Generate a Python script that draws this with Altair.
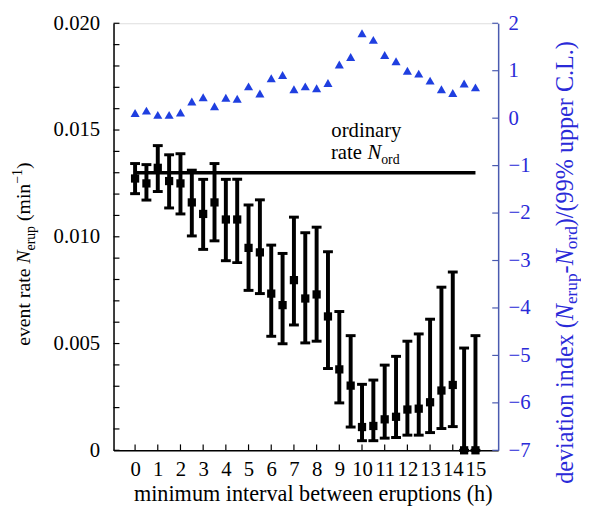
import altair as alt
import pandas as pd

# ---------------- data ----------------
interval_h = [0, 0.5, 1, 1.5, 2, 2.5, 3, 3.5, 4, 4.5, 5, 5.5, 6, 6.5, 7, 7.5,
              8, 8.5, 9, 9.5, 10, 10.5, 11, 11.5, 12, 12.5, 13, 13.5, 14, 14.5, 15]
rate = [0.01273, 0.01250, 0.01323, 0.01261, 0.01250, 0.01161, 0.01107, 0.01161,
        0.01081, 0.01081, 0.00948, 0.00927, 0.00734, 0.00680, 0.00797, 0.00711,
        0.00730, 0.00627, 0.00379, 0.00303, 0.00109, 0.00114, 0.00145, 0.00157,
        0.00191, 0.00195, 0.00225, 0.00280, 0.00306, 0.0, 0.0]
rate_upper = [0.01343, 0.01338, 0.01427, 0.01384, 0.01389, 0.01312, 0.01269, 0.01343,
              0.01269, 0.01269, 0.01149, 0.01173, 0.00961, 0.00922, 0.01092, 0.01019,
              0.01045, 0.00930, 0.00650, 0.00537, 0.00309, 0.00329, 0.00399, 0.00440,
              0.00511, 0.00545, 0.00614, 0.00764, 0.00835, 0.00479, 0.00537]
rate_lower = [0.01202, 0.01172, 0.01212, 0.01135, 0.01107, 0.01004, 0.00941, 0.00981,
              0.00888, 0.00879, 0.00749, 0.00734, 0.00534, 0.00499, 0.00587, 0.00503,
              0.00511, 0.00383, 0.00222, 0.00109, 0.00045, 0.00045, 0.00057, 0.00060,
              0.00071, 0.00071, 0.00083, 0.00102, 0.00111, 0.0, 0.0]
deviation = [0.11, 0.16, 0.07, 0.07, 0.12, 0.35, 0.44, 0.25, 0.43, 0.41, 0.67,
             0.52, 0.84, 0.91, 0.61, 0.67, 0.63, 0.74, 1.13, 1.29, 1.79, 1.65,
             1.33, 1.20, 1.00, 0.94, 0.79, 0.61, 0.53, 0.73, 0.65]
ord_rate = 0.013
ord_span = [0, 15]
label_x = 10.15

x_ticks = [0, 1, 2, 3, 4, 5, 6, 7, 8, 9, 10, 11, 12, 13, 14, 15]
left_labels = [0, 0.005, 0.010, 0.015, 0.020]
left_minor = [0, 0.001, 0.002, 0.003, 0.004, 0.005, 0.006, 0.007, 0.008, 0.009, 0.010,
              0.011, 0.012, 0.013, 0.014, 0.015, 0.016, 0.017, 0.018, 0.019, 0.020]
right_ticks = [-7, -6, -5, -4, -3, -2, -1, 0, 1, 2]

# ---------------- styling ----------------
W, H = 390, 433
SERIF = "Liberation Serif, Times New Roman, Times, serif"
BLUE = "#2a2ad8"
TRI_BLUE = "#1f3fe0"
FRAME_BLUE = "#4a5ab0"

df = pd.DataFrame({"x": interval_h, "rate": rate, "lo": rate_lower,
                   "hi": rate_upper, "dev": deviation})
ord_df = pd.DataFrame({"x": ord_span, "y": [ord_rate, ord_rate]})
lab_df = pd.DataFrame({"x": [label_x], "y": [ord_rate]})
dummy = pd.DataFrame({"d": [0]})

xs = alt.Scale(domain=[-0.95, 16.0], nice=False, zero=False)
ys = alt.Scale(domain=[0, 0.02], nice=False)
yr = alt.Scale(domain=[-7, 2], nice=False, zero=False)

x_axis = alt.Axis(values=x_ticks, ticks=False, grid=False, domainColor="black",
                  domainWidth=1.5, labelFont=SERIF, labelFontSize=21,
                  labelColor="black", labelPadding=9, labelFlush=False,
                  labelOverlap=False,
                  title="minimum interval between eruptions (h)",
                  titleFont=SERIF, titleFontSize=22.5, titleFontWeight="normal",
                  titleColor="black", titlePadding=3, titleX=202,
                  titleAlign="center", titleAnchor="middle")
y_axis = alt.Axis(values=left_labels, ticks=False, grid=False, domainColor="black",
                  domainWidth=1.5, labelFont=SERIF, labelFontSize=21,
                  labelColor="black", labelPadding=14, labelFlush=False,
                  labelOverlap=False, title=None,
                  labelExpr="datum.value == 0 ? '0' : format(datum.value, '.3f')")
yr_axis = alt.Axis(orient="right", values=right_ticks, ticks=False, grid=False,
                   domainColor=FRAME_BLUE, domainWidth=1.5, labelFont=SERIF,
                   labelFontSize=21, labelColor=BLUE, labelPadding=10,
                   labelFlush=False, labelOverlap=False, title=None, format="d")

X = alt.X("x:Q", scale=xs, axis=x_axis)

bars = alt.Chart(df).mark_rule(color="black", strokeWidth=4).encode(
    x=X, y=alt.Y("lo:Q", scale=ys, axis=y_axis), y2="hi:Q")
cap_hi = alt.Chart(df).mark_tick(orient="horizontal", color="black", size=10,
                                 thickness=3, opacity=1).encode(
    x=X, y=alt.Y("hi:Q", scale=ys, axis=y_axis))
cap_lo = alt.Chart(df).mark_tick(orient="horizontal", color="black", size=10,
                                 thickness=3, opacity=1).encode(
    x=X, y=alt.Y("lo:Q", scale=ys, axis=y_axis))
squares = alt.Chart(df).mark_square(color="black", size=70, opacity=1).encode(
    x=X, y=alt.Y("rate:Q", scale=ys, axis=y_axis))
ord_line = alt.Chart(ord_df).mark_line(color="black", strokeWidth=3.5).encode(
    x=X, y=alt.Y("y:Q", scale=ys, axis=y_axis))

left_ticks = alt.Chart(pd.DataFrame({"v": left_minor})).mark_rule(
    color="black", strokeWidth=1.2).encode(
    y=alt.Y("v:Q", scale=ys, axis=y_axis), x=alt.value(0), x2=alt.value(6))
bottom_ticks = alt.Chart(pd.DataFrame({"x": x_ticks})).mark_rule(
    color="black", strokeWidth=1.2).encode(
    x=X, y=alt.value(H), y2=alt.value(H - 6))


def lab(text, dx, dy, size=21, italic=False, align="left"):
    return alt.Chart(lab_df).mark_text(
        text=text, align=align, baseline="alphabetic", dx=dx, dy=dy,
        font=SERIF, fontSize=size, fontStyle="italic" if italic else "normal",
        color="black").encode(x=X, y=alt.Y("y:Q", scale=ys, axis=y_axis))


labels = [
    lab("ordinary", 1, -36, align="center"),
    lab("rate", -35, -14),
    lab("N", 2, -14, italic=True),
    lab("ord", 16, -9, size=14),
]


def seg(text, x, y, size, italic=False, color="black"):
    return alt.Chart(dummy).mark_text(
        text=text, angle=270, align="left", baseline="alphabetic",
        font=SERIF, fontSize=size, fontStyle="italic" if italic else "normal",
        color=color).encode(x=alt.value(x), y=alt.value(y))


left_title = [
    seg("event rate", -85, 327, 20),
    seg("N", -85, 243.7, 20, italic=True),
    seg("erup", -80, 230.4, 14),
    seg("(min", -85, 200.5, 20),
    seg("\u22121", -93, 162.7, 14),
    seg(")", -85, 147.8, 20),
]
right_title = [
    seg("deviation index (", 466, 467, 24.5, color=BLUE),
    seg("N", 466, 301, 24.5, italic=True, color=BLUE),
    seg("erup", 469.5, 284.7, 17.5, color=BLUE),
    seg("-", 466, 253.6, 24.5, color=BLUE),
    seg("N", 466, 245.4, 24.5, italic=True, color=BLUE),
    seg("ord", 469.5, 229.1, 17.5, color=BLUE),
    seg(")/(99% upper C.L.)", 466, 205.8, 24.5, color=BLUE),
]

left_group = alt.layer(bars, cap_hi, cap_lo, squares, ord_line, left_ticks,
                       bottom_ticks, *labels, *left_title)

triangles = alt.Chart(df).mark_point(shape="triangle-up", filled=True, size=85,
                                     color=TRI_BLUE, opacity=1).encode(
    x=X, y=alt.Y("dev:Q", scale=yr, axis=yr_axis))
right_tick_marks = alt.Chart(pd.DataFrame({"v": right_ticks})).mark_rule(
    color=FRAME_BLUE, strokeWidth=1.2).encode(
    y=alt.Y("v:Q", scale=yr, axis=yr_axis), x=alt.value(W - 6), x2=alt.value(W))
right_group = alt.layer(triangles, right_tick_marks, *right_title)

chart = alt.layer(left_group, right_group).resolve_scale(y="independent").properties(
    width=W, height=H,
    autosize=alt.AutoSizeParams(type="none"),
    padding={"left": 107, "top": 12, "right": 84, "bottom": 54},
).configure_view(stroke="black", strokeWidth=1.5).configure(background="white")

chart.save("out.html", embed_options={"renderer": "svg", "actions": False})
